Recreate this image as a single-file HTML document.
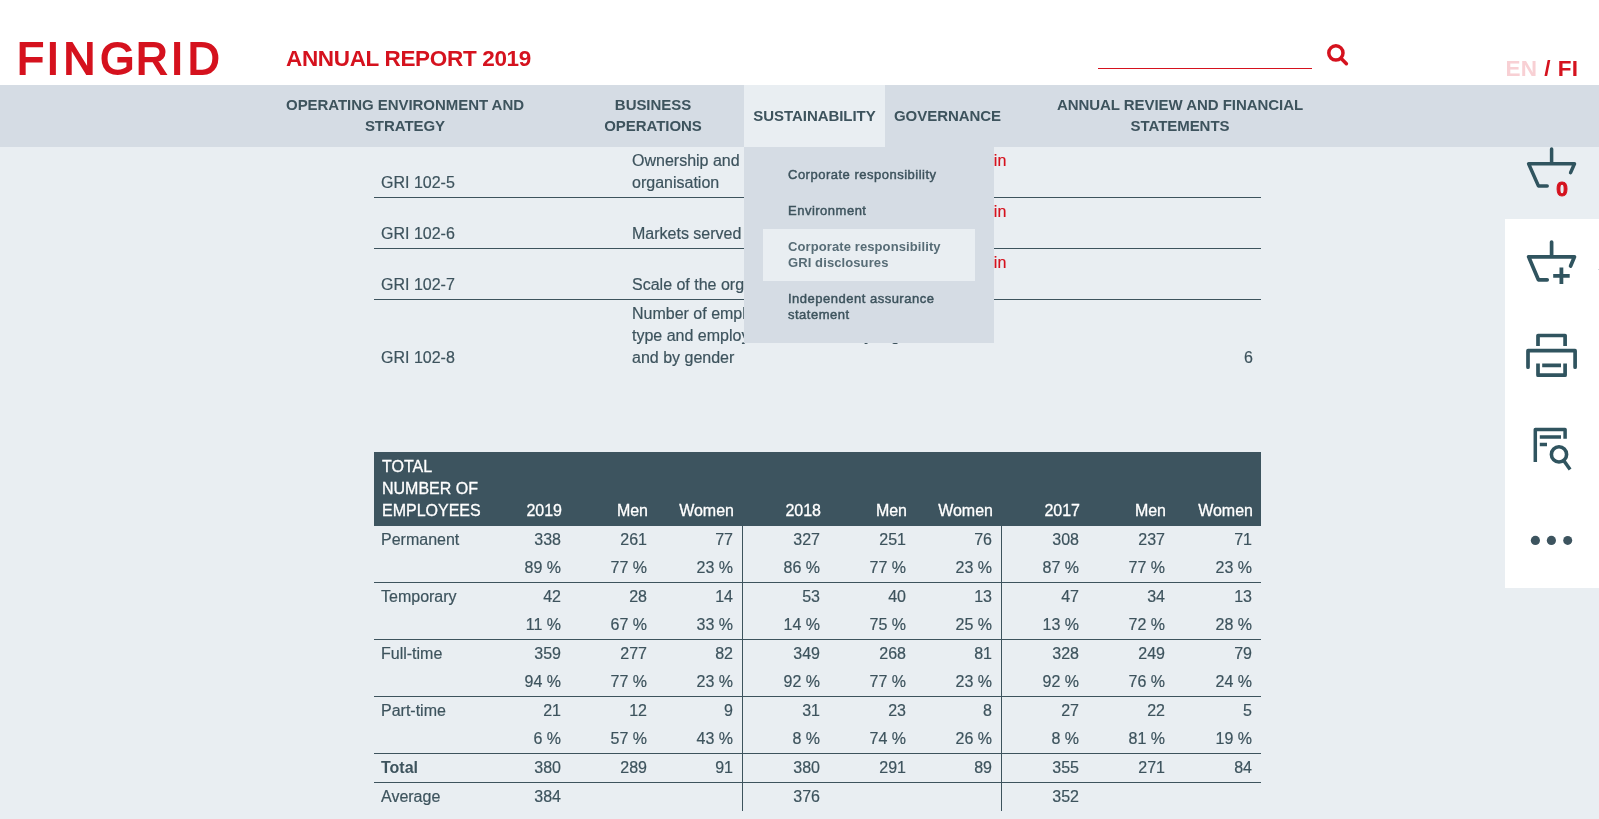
<!DOCTYPE html>
<html lang="en">
<head>
<meta charset="utf-8">
<title>Fingrid Annual Report 2019</title>
<style>
*{box-sizing:border-box;margin:0;padding:0}
html,body{width:1599px;height:819px;overflow:hidden}
body>*{will-change:transform}
body{background:#e9eef2;font-family:"Liberation Sans",sans-serif;color:#3d535d;position:relative;font-size:16px}
a{text-decoration:none;color:inherit}
#hdr{position:absolute;left:0;top:0;width:1599px;height:85px;background:#fff}
#logo{position:absolute;left:0;top:0}
#title{position:absolute;left:286px;top:46px;font-size:22.5px;font-weight:700;color:#d5121e;line-height:26px;white-space:nowrap;letter-spacing:-0.33px}
#sline{position:absolute;left:1098px;top:68px;width:214px;height:1px;background:#d5121e}
#sicon{position:absolute;left:1324px;top:42px}
#lang{position:absolute;left:1505.5px;top:56px;font-size:22.5px;font-weight:700;line-height:26px;letter-spacing:0.2px;word-spacing:0.6px;color:#d5121e;white-space:nowrap}
#lang span{color:#f8d0d4}
#nav{position:absolute;left:0;top:85px;width:1599px;height:62px;background:#d5dce4}
#nav .it{position:absolute;top:0;height:62px;padding-bottom:2px;display:flex;align-items:center;justify-content:center;text-align:center;font-size:15px;font-weight:700;line-height:21px;letter-spacing:-0.05px;color:#3d535d;white-space:nowrap}
#nav .act{background:#e9eef2}
#nav .it span{display:block}
#dd{position:absolute;left:744px;top:147px;width:250px;height:196px;background:#d5dce4;padding:10px 19px;z-index:5}
#dd .di{padding:10px 0 10px 25px;font-size:13px;line-height:16px;font-weight:400;-webkit-text-stroke:0.45px;letter-spacing:0.5px;color:#3d535d;width:212px;white-space:nowrap}
#dd .cur{background:#e9eef2;color:#576c76;font-weight:700;-webkit-text-stroke:0;letter-spacing:0.1px}

#clip{position:absolute;left:0;top:147px;width:1599px;height:672px;overflow:hidden}
#gri{position:absolute;left:374px;top:0px;width:887px;border-collapse:separate;border-spacing:0;table-layout:fixed;font-size:16px;line-height:22px;color:#3d535d}
#gri td{-webkit-text-stroke:0.2px;vertical-align:bottom;padding:3px 7px 3px 7px;border-bottom:1px solid #3d535d;height:51px;white-space:nowrap}
#gri tr:last-child td{border-bottom:0}
#gri td.r{color:#d5121e;white-space:nowrap;padding-left:7.6px}
#gri td.n{text-align:right;padding-right:8px}
#emp{position:absolute;left:374px;top:305px;width:887px;border-collapse:separate;border-spacing:0;table-layout:fixed;font-size:16px;line-height:28px;color:#3d535d}
#emp th{white-space:nowrap;-webkit-text-stroke:0.3px #fff;background:#3d545f;color:#fff;font-weight:400;vertical-align:bottom;text-align:right;padding:4px 8px 4px 8px;line-height:22px;height:74px}
#emp th:first-child{text-align:left}
#emp td{-webkit-text-stroke:0.2px;text-align:right;padding:0 9px 0 8px;height:28px;vertical-align:top}
#emp td:first-child{text-align:left;padding-left:7px}
#emp td b{-webkit-text-stroke:0}
#emp tr.b td{border-bottom:1px solid #3d535d}
#emp td.v,#emp th.v{border-right:1px solid #3d535d}
#emp th.v{border-right-color:#3d545f}
#side{position:absolute;left:1505px;top:219px;width:94px;height:369px;background:#fff}
#icons{position:absolute;left:1500px;top:140px;z-index:6}
</style>
</head>
<body>
<div id="hdr">
<svg id="logo" width="240" height="85" viewBox="0 0 240 85" role="img" aria-label="FINGRID"><text y="73.6" font-family="Liberation Sans, sans-serif" font-weight="400" font-size="44" fill="#d5121e" stroke="#d5121e" stroke-width="1.9" stroke-linejoin="miter" x="17.1 46.7 63.6 100.3 136 170.9 187.8">FINGRID</text></svg>
<div id="title">ANNUAL REPORT 2019</div>
<div id="sline"></div>
<svg id="sicon" width="28" height="28" viewBox="0 0 28 28"><circle cx="11.9" cy="10.9" r="7.1" fill="none" stroke="#d5121e" stroke-width="3.5"/><path d="M17.2 16.4 L22.4 21.7" stroke="#d5121e" stroke-width="3.5" stroke-linecap="round"/></svg>
<div id="lang"><span>EN</span> / FI</div>
</div>
<div id="nav">
<div class="it" style="left:276px;width:258px"><span>OPERATING ENVIRONMENT AND<br>STRATEGY</span></div>
<div class="it" style="left:595px;width:116px"><span>BUSINESS<br>OPERATIONS</span></div>
<div class="it act" style="left:744px;width:141px"><span>SUSTAINABILITY</span></div>
<div class="it" style="left:885px;width:125px"><span>GOVERNANCE</span></div>
<div class="it" style="left:1049px;width:262px"><span>ANNUAL REVIEW AND FINANCIAL<br>STATEMENTS</span></div>
</div>

<div id="clip">
<table id="gri">
<colgroup><col style="width:251px"><col style="width:251px"><col style="width:311px"><col style="width:74px"></colgroup>
<tr><td>GRI 102-5</td><td>Ownership and legal form of the<br>organisation</td><td class="r">Report: Fingrid in<br>brief</td><td class="n"></td></tr>
<tr><td>GRI 102-6</td><td>Markets served</td><td class="r">Report: Fingrid in<br>brief</td><td class="n"></td></tr>
<tr><td>GRI 102-7</td><td>Scale of the organisation</td><td class="r">Report: Fingrid in<br>brief</td><td class="n"></td></tr>
<tr><td>GRI 102-8</td><td>Number of employees by employment<br>type and employment contract, by region<br>and by gender</td><td class="r"></td><td class="n">6</td></tr>
</table>
<table id="emp">
<colgroup><col style="width:110px"><col style="width:86px"><col style="width:86px"><col style="width:87px"><col style="width:86px"><col style="width:86px"><col style="width:87px"><col style="width:86px"><col style="width:86px"><col style="width:87px"></colgroup>
<tr><th>TOTAL<br>NUMBER OF<br>EMPLOYEES</th><th>2019</th><th>Men</th><th class="v">Women</th><th>2018</th><th>Men</th><th class="v">Women</th><th>2017</th><th>Men</th><th>Women</th></tr>
<tr><td>Permanent</td><td>338</td><td>261</td><td class="v">77</td><td>327</td><td>251</td><td class="v">76</td><td>308</td><td>237</td><td>71</td></tr>
<tr class="b"><td></td><td>89 %</td><td>77 %</td><td class="v">23 %</td><td>86 %</td><td>77 %</td><td class="v">23 %</td><td>87 %</td><td>77 %</td><td>23 %</td></tr>
<tr><td>Temporary</td><td>42</td><td>28</td><td class="v">14</td><td>53</td><td>40</td><td class="v">13</td><td>47</td><td>34</td><td>13</td></tr>
<tr class="b"><td></td><td>11 %</td><td>67 %</td><td class="v">33 %</td><td>14 %</td><td>75 %</td><td class="v">25 %</td><td>13 %</td><td>72 %</td><td>28 %</td></tr>
<tr><td>Full-time</td><td>359</td><td>277</td><td class="v">82</td><td>349</td><td>268</td><td class="v">81</td><td>328</td><td>249</td><td>79</td></tr>
<tr class="b"><td></td><td>94 %</td><td>77 %</td><td class="v">23 %</td><td>92 %</td><td>77 %</td><td class="v">23 %</td><td>92 %</td><td>76 %</td><td>24 %</td></tr>
<tr><td>Part-time</td><td>21</td><td>12</td><td class="v">9</td><td>31</td><td>23</td><td class="v">8</td><td>27</td><td>22</td><td>5</td></tr>
<tr class="b"><td></td><td>6 %</td><td>57 %</td><td class="v">43 %</td><td>8 %</td><td>74 %</td><td class="v">26 %</td><td>8 %</td><td>81 %</td><td>19 %</td></tr>
<tr class="b"><td><b>Total</b></td><td>380</td><td>289</td><td class="v">91</td><td>380</td><td>291</td><td class="v">89</td><td>355</td><td>271</td><td>84</td></tr>
<tr><td>Average</td><td>384</td><td></td><td class="v"></td><td>376</td><td></td><td class="v"></td><td>352</td><td></td><td></td></tr>
</table>
</div>
<div id="side"></div>
<div style="position:absolute;left:1598px;top:269px;width:1px;height:1px;background:#cdd9dd;z-index:7"></div>
<svg id="icons" width="99" height="460" viewBox="1500 140 99 460" fill="none" stroke="#30545f" stroke-width="3.5" stroke-linecap="round" stroke-linejoin="round">
<g id="bk"><path d="M1551.6 149V163.8M1528.6 163.8H1574.5L1570.6 172.6M1528.6 163.8L1538.4 185.9H1547.2"/></g>
<text transform="translate(1556.3 195.9) scale(1.1 1.02)" font-family="Liberation Sans, sans-serif" font-weight="700" font-size="19" fill="#d5121e" stroke="#d5121e" stroke-width="0.9">0</text>
<path d="M1551.6 242.1V256.8M1528.6 256.8H1574.5L1570.6 266M1528.6 256.8L1538.4 279.8H1547.2" stroke-width="3.7"/>
<path d="M1553.2 275.9H1569.7M1561.4 267.6V284" stroke-width="3.8" stroke-linecap="butt"/>
<path d="M1538 345.9V335.5H1565.1V345.9M1538 363.4V375.2H1565.1V363.4M1542.2 365.4H1561" stroke-width="3.7" stroke-linecap="butt"/>
<path d="M1528 367.2V350.7H1575.1V367.2" stroke-width="3.7"/>
<path d="M1535.3 462V429.6H1565.1V438.7M1539.8 437H1561M1539.8 444.5H1547" stroke-width="3.5" stroke-linecap="butt"/>
<circle cx="1559" cy="454.4" r="7.6" stroke-width="3.6"/>
<path d="M1563.7 460.6L1570.1 469.5" stroke-width="3.5" stroke-linecap="butt"/>
<g fill="#3d545f" stroke="none"><circle cx="1535.4" cy="540.4" r="4.6"/><circle cx="1551.4" cy="540.4" r="4.6"/><circle cx="1567.7" cy="540.4" r="4.5"/></g>
</svg>
<div id="dd">
<div class="di">Corporate responsibility</div>
<div class="di">Environment</div>
<div class="di cur">Corporate responsibility<br>GRI disclosures</div>
<div class="di">Independent assurance<br>statement</div>
</div>
</body>
</html>
